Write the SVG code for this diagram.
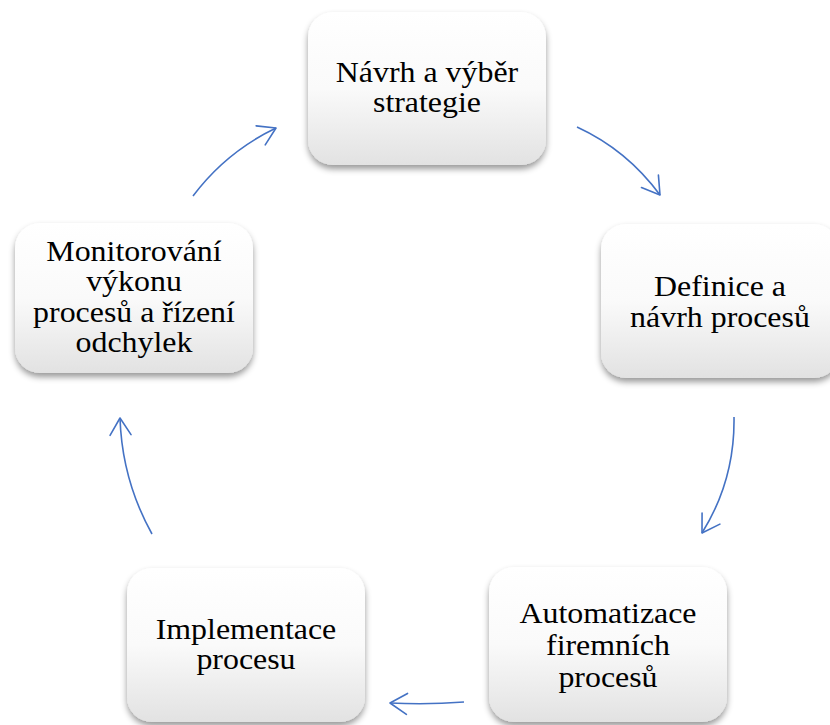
<svg xmlns="http://www.w3.org/2000/svg" width="830" height="725" viewBox="0 0 830 725">
<defs>
<linearGradient id="g" x1="0" y1="0" x2="0" y2="1">
<stop offset="0" stop-color="#ffffff"/>
<stop offset="0.5" stop-color="#fafafa"/>
<stop offset="1" stop-color="#e2e2e2"/>
</linearGradient>
<filter id="sh" x="-10%" y="-10%" width="120%" height="130%">
<feDropShadow dx="0" dy="4" stdDeviation="3" flood-color="#000" flood-opacity="0.4"/>
</filter>
<marker id="ah" markerUnits="userSpaceOnUse" markerWidth="30" markerHeight="30" refX="0" refY="0" viewBox="-22 -15 26 30" orient="auto" overflow="visible">
<path d="M-17,-10.5 L0,0 L-17,10.5" fill="none" stroke="#4472C4" stroke-width="1.6" stroke-linecap="round" stroke-linejoin="round"/>
</marker>
<style>
.box{fill:url(#g);filter:url(#sh);}
.t{font-size:29px;fill:#000;text-anchor:middle;}
.c{fill:none;stroke:#4472C4;stroke-width:1.6;marker-end:url(#ah);}
</style>
</defs>
<g id="connectors">
<path class="c" d="M577,127 Q627,150 660,195"/>
<path class="c" d="M734,417 Q735,480 702,533"/>
<path class="c" d="M464,702 Q427,705 390,703"/>
<path class="c" d="M152,534 Q122,480 120,418"/>
<path class="c" d="M193,196 Q226,152 276,128"/>
</g>
<g font-family="Liberation Serif, Times New Roman, serif">
<g id="n1">
<rect class="box" x="308" y="12" width="238" height="153" rx="25"/>
<g transform="matrix(1.1 0 0 1 -42.7 0)">
<text class="t" x="427" y="82">Návrh a výběr</text>
<text class="t" x="427" y="112">strategie</text>
</g>
</g>
<g id="n2">
<rect class="box" x="601" y="224" width="238" height="154" rx="25"/>
<g transform="matrix(1.1 0 0 1 -72 0)">
<text class="t" x="720" y="296">Definice a</text>
<text class="t" x="720" y="327">návrh procesů</text>
</g>
</g>
<g id="n3">
<rect class="box" x="489" y="567" width="238" height="155" rx="25"/>
<g transform="matrix(1.1 0 0 1 -60.8 0)">
<text class="t" x="608" y="623">Automatizace</text>
<text class="t" x="608" y="655">firemních</text>
<text class="t" x="608" y="687">procesů</text>
</g>
</g>
<g id="n4">
<rect class="box" x="127" y="568" width="238" height="154" rx="25"/>
<g transform="matrix(1.1 0 0 1 -24.6 0)">
<text class="t" x="246" y="639">Implementace</text>
<text class="t" x="246" y="669">procesu</text>
</g>
</g>
<g id="n5">
<rect class="box" x="15" y="223" width="238" height="150" rx="25"/>
<g transform="matrix(1.1 0 0 1 -13.4 0)">
<text class="t" x="134" y="261">Monitorování</text>
<text class="t" x="134" y="291.5">výkonu</text>
<text class="t" x="134" y="322">procesů a řízení</text>
<text class="t" x="134" y="352.5">odchylek</text>
</g>
</g>
</g>
</svg>
